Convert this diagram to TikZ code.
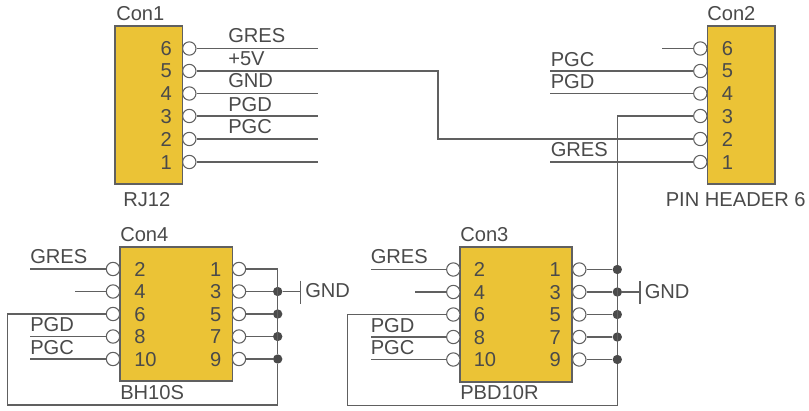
\documentclass[tikz,border=0pt]{standalone}
\usepackage{fontspec}
\setmainfont{Liberation Sans}
\definecolor{ink}{HTML}{4A4A4A}
\definecolor{wire}{HTML}{606060}
\definecolor{body}{HTML}{EBC336}
\tikzset{
  conbox/.style={draw=wire,line width=1.1pt,fill=body},
  pincircle/.style={circle,draw=wire,fill=white,line width=0.8pt,minimum size=10pt,inner sep=0pt},
  wireline/.style={draw=wire,line width=0.9pt},
  junction/.style={circle,fill=ink,minimum size=7pt,inner sep=0pt},
  lab/.style={anchor=base west,inner sep=0pt,text=ink,font=\fontsize{15.1pt}{17pt}\selectfont},
  labr/.style={anchor=base east,inner sep=0pt,text=ink,font=\fontsize{15.1pt}{17pt}\selectfont}
}
\begin{document}
\begin{tikzpicture}[x=0.75pt,y=-0.75pt]
\useasboundingbox (0,0) rectangle (809,410);
% boxes
\path[conbox] (115,26) rectangle (182.7,184);
\path[conbox] (707.3,26) rectangle (775,184);
\path[conbox] (120,247) rectangle (232.5,381);
\path[conbox] (460,247) rectangle (572,382);
% pins Con1, Con2
\foreach \n/\y in {6/48.5,5/71,4/93.5,3/116,2/139,1/162}{
  \node[pincircle] (aP\n) at (189.3,\y) {};
  \node[pincircle] (bP\n) at (700.3,\y) {};
  \node[labr] (aT\n) at (172,\y+7) {\n};
  \node[lab] (bT\n) at (721.7,\y+7) {\n};
}
% pins Con4, Con3
\foreach \n/\y in {2/269,4/291.5,6/314,8/336.5,10/359}{
  \node[pincircle] (dP\n) at (113,\y) {};
  \node[pincircle] (cP\n) at (453.3,\y+0.5) {};
  \node[lab] (dT\n) at (134,\y+7) {\n};
  \node[lab] (cT\n) at (473.5,\y+7.5) {\n};
}
\foreach \n/\y in {1/269,3/291.5,5/314,7/336.5,9/359}{
  \node[pincircle] (dP\n) at (239,\y) {};
  \node[pincircle] (cP\n) at (579.3,\y+0.5) {};
  \node[labr] (dT\n) at (221.7,\y+7) {\n};
  \node[labr] (cT\n) at (561,\y+7.5) {\n};
}
% free wire ends
\coordinate (aE6) at (318,48.5);
\coordinate (aE4) at (318,93.5);
\coordinate (aE3) at (318,116);
\coordinate (aE2) at (318,139);
\coordinate (aE1) at (318,162);
\coordinate (bE6) at (662,48.5);
\coordinate (bE5) at (550,71);
\coordinate (bE4) at (550,93.5);
\coordinate (bE1) at (550,162);
\coordinate (dE2) at (30,269);
\coordinate (dE4) at (75,291.5);
\coordinate (dE8) at (30,336.5);
\coordinate (dE10) at (30,359);
\coordinate (cE2) at (371,269.5);
\coordinate (cE4) at (415,292);
\coordinate (cE8) at (371,337);
\coordinate (cE10) at (371,359.5);
% junctions
\node[junction] (dJ3) at (277.7,291.5) {};
\node[junction] (dJ5) at (277.7,314) {};
\node[junction] (dJ7) at (277.7,336.5) {};
\node[junction] (dJ9) at (277.7,359) {};
\node[junction] (cJ1) at (617.3,269.5) {};
\node[junction] (cJ3) at (617.3,292) {};
\node[junction] (cJ5) at (617.3,314.5) {};
\node[junction] (cJ7) at (617.3,337) {};
\node[junction] (cJ9) at (617.3,359.5) {};
% GND ticks
\coordinate (dG) at (300.5,291.5);
\coordinate (dGa) at (300.5,280.5);
\coordinate (dGb) at (300.5,303.5);
\coordinate (cG) at (640,292);
\coordinate (cGa) at (640,281);
\coordinate (cGb) at (640,304);
% wires Con1/Con2
\foreach \n in {6,4,3,2,1}{\draw[wireline] (aP\n) -- (aE\n);}
\foreach \n in {6,5,4,1}{\draw[wireline] (bE\n) -- (bP\n);}
\draw[wireline] (aP5) -- (438,71) -- (438,139) -- (bP2);
\draw[wireline] (bP3) -- (617.3,116) -- (cJ1);
% wires Con4
\foreach \n in {2,4,8,10}{\draw[wireline] (dE\n) -- (dP\n);}
\foreach \n in {3,5,7,9}{\draw[wireline] (dP\n) -- (dJ\n);}
\draw[wireline] (dP1) -- (277.7,269) -- (dJ9) -- (277.7,405) -- (7.5,405) -- (7.5,314) -- (dP6);
\draw[wireline] (dJ3) -- (dG);
\draw[wireline] (dGa) -- (dGb);
% wires Con3
\foreach \n in {2,4,8,10}{\draw[wireline] (cE\n) -- (cP\n);}
\foreach \n in {1,3,5,7,9}{\draw[wireline] (cP\n) -- (cJ\n);}
\draw[wireline] (cJ1) -- (cJ9) -- (617.3,405.5) -- (347.5,405.5) -- (347.5,314.5) -- (cP6);
\draw[wireline] (cJ3) -- (cG);
\draw[wireline] (cGa) -- (cGb);
% labels
\node[lab] (l1) at (116,21) {Con1};
\node[lab] (l2) at (123,206.5) {RJ12};
\node[lab] (l3) at (228,43) {GRES};
\node[lab] (l4) at (228,65.5) {+5V};
\node[lab] (l5) at (228,88) {GND};
\node[lab] (l6) at (228,111) {PGD};
\node[lab] (l7) at (228,133) {PGC};
\node[lab] (l8) at (707,21) {Con2};
\node[lab] (l9) at (665.5,206.5) {PIN HEADER 6};
\node[lab] (l10) at (550.5,66.5) {PGC};
\node[lab] (l11) at (550.5,89) {PGD};
\node[lab] (l12) at (550.5,156.5) {GRES};
\node[lab] (l13) at (120,241.5) {Con4};
\node[lab] (l14) at (120,399) {BH10S};
\node[lab] (l15) at (30,263) {GRES};
\node[lab] (l16) at (30,331.5) {PGD};
\node[lab] (l17) at (30,354) {PGC};
\node[lab] (l18) at (305,297.5) {GND};
\node[lab] (l19) at (460,241.5) {Con3};
\node[lab] (l20) at (460,399.5) {PBD10R};
\node[lab] (l21) at (370.5,263.5) {GRES};
\node[lab] (l22) at (370.5,332) {PGD};
\node[lab] (l23) at (370.5,354.5) {PGC};
\node[lab] (l24) at (644.5,298) {GND};
\end{tikzpicture}
\end{document}
